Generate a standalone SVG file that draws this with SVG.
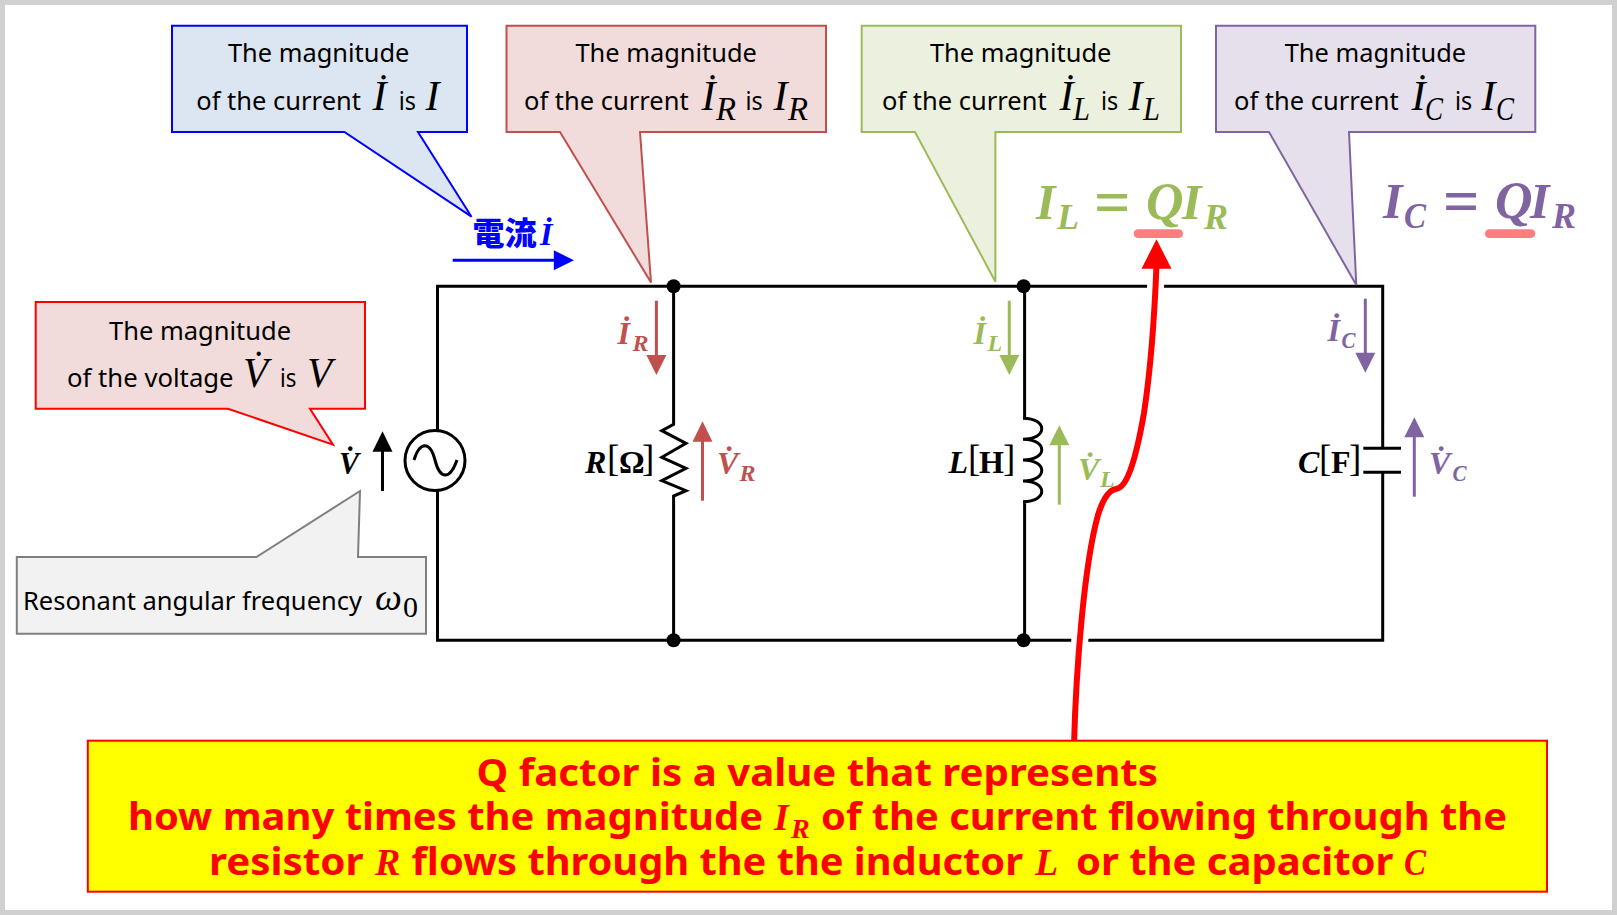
<svg xmlns="http://www.w3.org/2000/svg" width="1617" height="915" viewBox="0 0 1617 915">
<style>
.t{font-family:"Noto Sans","Liberation Sans",sans-serif;font-size:25px;fill:#000}
.m{font-family:"Liberation Serif",serif;font-style:italic;fill:#000}
.big{font-size:42px}
.sub{font-size:34px}
.bm{font-family:"Liberation Serif",serif;font-style:italic;font-weight:bold}
.br{font-family:"Liberation Serif",serif;font-weight:bold;font-size:32px;fill:#000}
.nb{font-family:"Liberation Serif",serif;font-size:37px;fill:#000}
.y{font-family:"Noto Sans","Liberation Sans",sans-serif;font-weight:bold;font-size:38px;fill:#f00}
.ym{font-family:"Liberation Serif",serif;font-style:italic;font-weight:bold;fill:#f00}
.w{fill:none;stroke:#000;stroke-width:3}
.call{stroke-width:2}
.rd{fill:#c0504d}.gr{fill:#9bbb59}.pu{fill:#8064a2}
</style>
<rect x="2.5" y="2.5" width="1612" height="910" fill="#fff" stroke="#d0d0d0" stroke-width="5"/>

<g id="connectors">
<path class="w" d="M437.5 430.500V286.300H1382.700V448.300M1382.700 472.300V640.300H437.500V490.500"/>
<path class="w" d="M673.600 286.300V424.300L661.800 430.700L686 443.300L661.800 457.300L686 468.300L661.800 480.700L686 490.700L673.600 496V640.300"/>
<path class="w" d="M1024.600 286.300V418.300H1023C1048 418.300 1048 439.300 1023 439.300C1048 439.300 1048 460 1023 460C1048 460 1048 481 1023 481C1048 481 1048 501.700 1023 501.700H1024.600V640.300"/>
<path class="w" d="M1363.300 448.300H1401M1363.300 472.300H1401"/>
<path d="M414 460C420 441 430 441 435 460C440 480 450 480 457 460" class="w"/>
<path d="M1074 745C1076 670 1084 565 1098 515C1103 499 1109 490 1116 489C1125 488 1134 470 1144 413C1149 380 1154 330 1156.500 265" fill="none" stroke="#fff" stroke-width="17"/>
<path d="M1074 745C1076 670 1084 565 1098 515C1103 499 1109 490 1116 489C1125 488 1134 470 1144 413C1149 380 1154 330 1156.500 265" fill="none" stroke="#f00" stroke-width="6"/>
<path d="M1156.500 239.300L1171.500 268.700H1141.500Z" fill="#f00"/>
<path d="M452.700 260.300H555" stroke="#00f" stroke-width="3"/><path d="M574 260.300L553.800 250.300V270.300Z" fill="#00f"/>
<path d="M382.500 491V450" stroke="#000" stroke-width="3"/><path d="M382.500 431.300L392.500 451.700H372.500Z"/>
<path d="M656.400 300.700V357" stroke="#c0504d" stroke-width="3"/><path class="rd" d="M656.400 375L646.400 355H666.400Z"/>
<path d="M702.500 500.700V440" stroke="#c0504d" stroke-width="3"/><path class="rd" d="M702.500 421.300L712.500 441.700H692.500Z"/>
<path d="M1009.300 300.700V357" stroke="#9bbb59" stroke-width="3"/><path class="gr" d="M1009.300 375L999.300 355H1019.300Z"/>
<path d="M1059.300 504.700V444" stroke="#9bbb59" stroke-width="3"/><path class="gr" d="M1059.300 425.300L1069.300 445.300H1049.300Z"/>
<path d="M1365.300 298.700V355" stroke="#8064a2" stroke-width="3"/><path class="pu" d="M1365.300 372.700L1355.300 352.700H1375.300Z"/>
<path d="M1414.300 496.700V436" stroke="#8064a2" stroke-width="3"/><path class="pu" d="M1414.300 417.300L1424.300 437.300H1404.300Z"/>
</g>

<g id="junctions"><circle cx="673.600" cy="286.300" r="7"/><circle cx="1023.600" cy="286.300" r="7"/><circle cx="673.600" cy="640.300" r="7"/><circle cx="1023.600" cy="640.300" r="7"/></g>

<g id="source"><circle cx="435" cy="460.500" r="30" fill="none" stroke="#000" stroke-width="3"/></g>
<g id="source-label"><text class="bm" font-size="32" x="339" y="474" textLength="20" lengthAdjust="spacingAndGlyphs">V̇</text></g>

<g id="callout-current">
<path class="call" fill="#dce6f2" stroke="#00f" d="M172 25.700H467V132H418L471.500 216.700L344.400 132H172Z"/>
<text class="t" x="228" y="62" textLength="181.400" lengthAdjust="spacingAndGlyphs">The magnitude</text>
<text class="t" x="196.300" y="110" textLength="164.700" lengthAdjust="spacingAndGlyphs">of the current</text>
<text class="m big" x="372.500" y="110">İ</text>
<text class="t" x="398.800" y="110" textLength="17.200" lengthAdjust="spacingAndGlyphs">is</text>
<text class="m big" x="425.500" y="110">I</text>
</g>
<g id="callout-ir">
<path class="call" fill="#f2dcdb" stroke="#c0504d" d="M506.500 25.700H826V132H640L651 282.500L560 132H506.500Z"/>
<text class="t" x="575.500" y="62" textLength="181.400" lengthAdjust="spacingAndGlyphs">The magnitude</text>
<text class="t" x="524" y="110" textLength="164.700" lengthAdjust="spacingAndGlyphs">of the current</text>
<text class="m big" x="701.500" y="110">İ</text><text class="m sub" x="716" y="120" textLength="20" lengthAdjust="spacingAndGlyphs">R</text>
<text class="t" x="745.600" y="110" textLength="17.200" lengthAdjust="spacingAndGlyphs">is</text>
<text class="m big" x="773.500" y="110">I</text><text class="m sub" x="788" y="120" textLength="20" lengthAdjust="spacingAndGlyphs">R</text>
</g>
<g id="callout-il">
<path class="call" fill="#ebf1de" stroke="#9bbb59" d="M861.700 25.700H1181V132H995.400V281.700L915 132H861.700Z"/>
<text class="t" x="930" y="62" textLength="181.400" lengthAdjust="spacingAndGlyphs">The magnitude</text>
<text class="t" x="882" y="110" textLength="164.700" lengthAdjust="spacingAndGlyphs">of the current</text>
<text class="m big" x="1059.500" y="110">İ</text><text class="m sub" x="1073" y="120" textLength="17" lengthAdjust="spacingAndGlyphs">L</text>
<text class="t" x="1101" y="110" textLength="17.200" lengthAdjust="spacingAndGlyphs">is</text>
<text class="m big" x="1128.500" y="110">I</text><text class="m sub" x="1143" y="120" textLength="17" lengthAdjust="spacingAndGlyphs">L</text>
</g>
<g id="callout-ic">
<path class="call" fill="#e6e0ec" stroke="#8064a2" d="M1216 25.700H1535.300V132H1349L1356.300 285L1269 132H1216Z"/>
<text class="t" x="1284.700" y="62" textLength="181.400" lengthAdjust="spacingAndGlyphs">The magnitude</text>
<text class="t" x="1234" y="110" textLength="164.700" lengthAdjust="spacingAndGlyphs">of the current</text>
<text class="m big" x="1411.500" y="110">İ</text><text class="m sub" x="1425" y="120" textLength="18" lengthAdjust="spacingAndGlyphs">C</text>
<text class="t" x="1455" y="110" textLength="17.200" lengthAdjust="spacingAndGlyphs">is</text>
<text class="m big" x="1481.500" y="110">I</text><text class="m sub" x="1496" y="120" textLength="18" lengthAdjust="spacingAndGlyphs">C</text>
</g>
<g id="callout-voltage">
<path class="call" fill="#f2dcdb" stroke="#f00" d="M35.700 302H365V408.700H310L333 444.700L228 408.700H35.700Z"/>
<text class="t" x="109" y="340" textLength="182" lengthAdjust="spacingAndGlyphs">The magnitude</text>
<text class="t" x="67" y="386.700" textLength="166.600" lengthAdjust="spacingAndGlyphs">of the voltage</text>
<text class="m big" x="243" y="386.700" textLength="25" lengthAdjust="spacingAndGlyphs">V̇</text>
<text class="t" x="280" y="386.700" textLength="16.400" lengthAdjust="spacingAndGlyphs">is</text>
<text class="m big" x="307" y="386.700" textLength="25" lengthAdjust="spacingAndGlyphs">V</text>
</g>
<g id="callout-resonant">
<path class="call" fill="#f2f2f2" stroke="#7f7f7f" d="M16.800 557H256.400L360 491L358 557H426V633.700H16.800Z"/>
<text class="t" x="23" y="610" textLength="339" lengthAdjust="spacingAndGlyphs">Resonant angular frequency</text>
<text class="m" font-size="38" x="375" y="610">ω</text>
<text class="m" font-size="30" x="403" y="617" style="font-style:normal">0</text>
</g>

<g id="current-label"><text x="472.500" y="245" font-family="'Noto Sans CJK JP',sans-serif" font-weight="900" font-size="32" fill="#00f">電流</text><text class="bm" font-size="32" x="540" y="245" fill="#00f">İ</text></g>

<g id="eq-l">
<rect x="1133.700" y="229.300" width="49.300" height="8.700" rx="4.300" fill="#ff7c80"/>
<text class="bm gr" font-size="50" x="1036" y="219">I</text><text class="bm gr" font-size="36" x="1057" y="229">L</text>
<text class="bm gr" font-size="64" x="1094" y="224" style="font-style:normal">=</text>
<text class="bm gr" font-size="52" x="1146" y="219">Q</text><text class="bm gr" font-size="50" x="1182" y="219">I</text><text class="bm gr" font-size="36" x="1204" y="229">R</text>
</g>
<g id="eq-c">
<rect x="1485" y="229.300" width="50.300" height="8.700" rx="4.300" fill="#ff7c80"/>
<text class="bm pu" font-size="50" x="1383" y="218">I</text><text class="bm pu" font-size="36" x="1404" y="228" textLength="22" lengthAdjust="spacingAndGlyphs">C</text>
<text class="bm pu" font-size="64" x="1443" y="223" style="font-style:normal">=</text>
<text class="bm pu" font-size="52" x="1495" y="218">Q</text><text class="bm pu" font-size="50" x="1530" y="218">I</text><text class="bm pu" font-size="36" x="1552" y="228">R</text>
</g>

<g id="label-r">
<text class="bm rd" font-size="32" x="617.500" y="344">İ</text><text class="bm rd" font-size="24" x="632.500" y="350.700">R</text>
<text class="bm rd" font-size="32" x="717" y="474">V̇</text><text class="bm rd" font-size="24" x="739.500" y="480.700">R</text>
<text class="bm" font-size="32" x="585" y="472.700">R</text><text class="nb" x="607" y="471">[</text><text class="br" x="619" y="472.700">Ω</text><text class="nb" x="642" y="471">]</text>
</g>
<g id="label-l">
<text class="bm gr" font-size="32" x="973.500" y="344">İ</text><text class="bm gr" font-size="24" x="987.500" y="350.700">L</text>
<text class="bm gr" font-size="32" x="1078" y="480">V̇</text><text class="bm gr" font-size="24" x="1100" y="486.700">L</text>
<text class="bm" font-size="32" x="948.500" y="472.700">L</text><text class="nb" x="968" y="471">[</text><text class="br" x="979" y="472.700">H</text><text class="nb" x="1003" y="471">]</text>
</g>
<g id="label-c">
<text class="bm pu" font-size="32" x="1327.500" y="341">İ</text><text class="bm pu" font-size="24" x="1341.500" y="347.700" textLength="14" lengthAdjust="spacingAndGlyphs">C</text>
<text class="bm pu" font-size="32" x="1429" y="474">V̇</text><text class="bm pu" font-size="24" x="1452.500" y="480.700" textLength="14" lengthAdjust="spacingAndGlyphs">C</text>
<text class="bm" font-size="32" x="1298" y="472.700">C</text><text class="nb" x="1319" y="471">[</text><text class="br" x="1331" y="472.700">F</text><text class="nb" x="1349" y="471">]</text>
</g>

<g id="note">
<rect x="87.800" y="740.700" width="1459.200" height="151" fill="#ff0" stroke="#f00" stroke-width="2"/>
<text class="y" x="476.400" y="786" textLength="681.600" lengthAdjust="spacingAndGlyphs">Q factor is a value that represents</text>
<text class="y" x="128" y="830" textLength="635" lengthAdjust="spacingAndGlyphs">how many times the magnitude</text>
<text class="ym" font-size="38" x="774" y="830">I</text><text class="ym" font-size="28" x="791" y="838">R</text>
<text class="y" x="821" y="830" textLength="686" lengthAdjust="spacingAndGlyphs">of the current flowing through the</text>
<text class="y" x="209" y="875" textLength="154.600" lengthAdjust="spacingAndGlyphs">resistor</text>
<text class="ym" font-size="38" x="375" y="875">R</text>
<text class="y" x="411.500" y="875" textLength="611.500" lengthAdjust="spacingAndGlyphs">flows through the the inductor</text>
<text class="ym" font-size="38" x="1035" y="875">L</text>
<text class="y" x="1076" y="875" textLength="317.500" lengthAdjust="spacingAndGlyphs">or the capacitor</text>
<text class="ym" font-size="38" x="1404" y="875" textLength="22" lengthAdjust="spacingAndGlyphs">C</text>
</g>
</svg>
